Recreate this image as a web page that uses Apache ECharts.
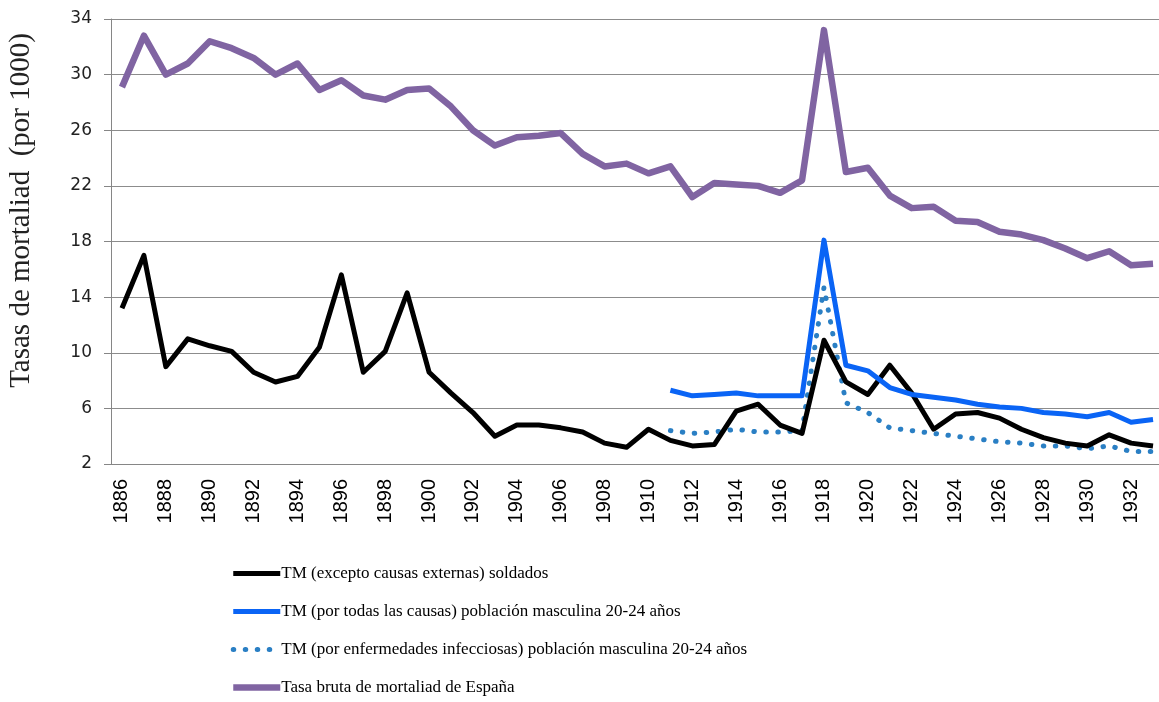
<!DOCTYPE html>
<html>
<head>
<meta charset="utf-8">
<script src="https://cdn.jsdelivr.net/npm/echarts@6/dist/echarts.min.js"></script>
<style>
  html, body { margin: 0; padding: 0; background: #fff; }
  #main { width: 1159px; height: 702px; }
</style>
</head>
<body>
<div id="main"></div>
<script>
// años 1886-1933
const years = [];
for (let y = 1886; y <= 1933; y++) years.push(String(y));

// TM (excepto causas externas) soldados
const soldados = [13.2, 17.0, 9.0, 11.0, 10.5, 10.1, 8.6, 7.9, 8.3, 10.4,
  15.6, 8.6, 10.1, 14.3, 8.6, 7.1, 5.7, 4.0, 4.8, 4.8,
  4.6, 4.3, 3.5, 3.2, 4.5, 3.7, 3.3, 3.4, 5.8, 6.3,
  4.8, 4.2, 10.9, 7.9, 7.0, 9.1, 7.1, 4.5, 5.6, 5.7,
  5.3, 4.5, 3.9, 3.5, 3.3, 4.1, 3.5, 3.3];

// 1886-1910 sin datos
const sinDatos = new Array(25).fill('-');

// TM (por todas las causas) 20-24 años, 1911-1933
const todasCausas = [7.3, 6.9, 7.0, 7.1, 6.9, 6.9, 6.9, 18.1, 9.1, 8.7,
  7.5, 7.0, 6.8, 6.6, 6.3, 6.1, 6.0, 5.7, 5.6, 5.4, 5.7, 5.0, 5.2];

// TM (por enfermedades infecciosas) 20-24 años, 1911-1933
const infecciosas = [4.4, 4.2, 4.3, 4.5, 4.3, 4.3, 4.4, 14.7, 6.4, 5.7,
  4.6, 4.4, 4.2, 4.0, 3.8, 3.6, 3.5, 3.3, 3.3, 3.1, 3.3, 2.9, 2.9];

// Tasa bruta de mortalidad de España
const tasaBruta = [29.1, 32.8, 30.0, 30.8, 32.4, 31.9, 31.2, 30.0, 30.8, 28.9,
  29.6, 28.5, 28.2, 28.9, 29.0, 27.7, 26.0, 24.9, 25.5, 25.6,
  25.8, 24.3, 23.4, 23.6, 22.9, 23.4, 21.2, 22.2, 22.1, 22.0,
  21.5, 22.4, 33.2, 23.0, 23.3, 21.3, 20.4, 20.5, 19.5, 19.4,
  18.7, 18.5, 18.1, 17.5, 16.8, 17.3, 16.3, 16.4];

const yTicks = { min: 2, max: 34, step: 4 };

const nombres = [
  'TM (excepto causas externas) soldados',
  'TM (por todas las causas) población masculina 20-24 años',
  'TM (por enfermedades infecciosas) población masculina 20-24 años',
  'Tasa bruta de mortaliad de España'
];

const myChart = echarts.init(document.getElementById('main'));
myChart.setOption({
  animation: false,
  backgroundColor: '#fff',
  grid: {
    left: 111,
    top: 19,
    right: -5,
    bottom: 238,
    outerBoundsMode: 'none'
  },
  legend: {
    orient: 'vertical',
    left: 225,
    top: 560,
    itemWidth: 47,
    itemHeight: 18,
    itemGap: 21,
    itemStyle: { opacity: 0 },
    lineStyle: { width: 'inherit' },
    textStyle: {
      fontFamily: 'Liberation Serif',
      fontSize: 17,
      color: '#000',
      padding: [0, 0, 0, -4]
    },
    data: nombres
  },
  xAxis: {
    type: 'category',
    data: years,
    boundaryGap: true,
    axisLine: { lineStyle: { color: '#868686', width: 1 } },
    axisTick: {
      interval: 0,
      length: 9,
      lineStyle: { color: '#868686' }
    },
    axisLabel: {
      interval: 1,
      rotate: 90,
      margin: 15,
      fontFamily: 'Liberation Sans',
      fontSize: 20,
      color: '#000'
    }
  },
  yAxis: {
    type: 'value',
    min: yTicks.min,
    max: yTicks.max,
    interval: yTicks.step,
    name: 'Tasas de mortaliad  (por 1000)',
    nameLocation: 'middle',
    nameGap: 75,
    nameTextStyle: {
      fontFamily: 'Liberation Serif',
      fontSize: 29,
      color: '#222',
      padding: [0, 0, 0, 62]
    },
    axisLine: { show: true, lineStyle: { color: '#868686' } },
    axisTick: { show: true, length: 7, lineStyle: { color: '#868686' } },
    axisLabel: {
      margin: 19,
      fontFamily: 'DejaVu Sans',
      fontSize: 17,
      color: '#222'
    },
    splitLine: { lineStyle: { color: '#8c8c8c', width: 1.2 } }
  },
  series: [
    {
      name: nombres[3],
      type: 'line',
      data: tasaBruta,
      symbol: 'none',
      lineStyle: { color: '#8064a2', width: 6.5, join: 'round' },
      itemStyle: { color: '#8064a2' },
      z: 2
    },
    {
      name: nombres[2],
      type: 'line',
      data: sinDatos.concat(infecciosas),
      symbol: 'none',
      lineStyle: { color: '#2a7fc4', width: 5, type: [0.5, 11.5], cap: 'round' },
      itemStyle: { color: '#2a7fc4' },
      z: 3
    },
    {
      name: nombres[0],
      type: 'line',
      data: soldados,
      symbol: 'none',
      lineStyle: { color: '#000', width: 5, join: 'round' },
      itemStyle: { color: '#000' },
      z: 4
    },
    {
      name: nombres[1],
      type: 'line',
      data: sinDatos.concat(todasCausas),
      symbol: 'none',
      lineStyle: { color: '#0a64f5', width: 5, join: 'round' },
      itemStyle: { color: '#0a64f5' },
      z: 5
    }
  ]
});
</script>
</body>
</html>
